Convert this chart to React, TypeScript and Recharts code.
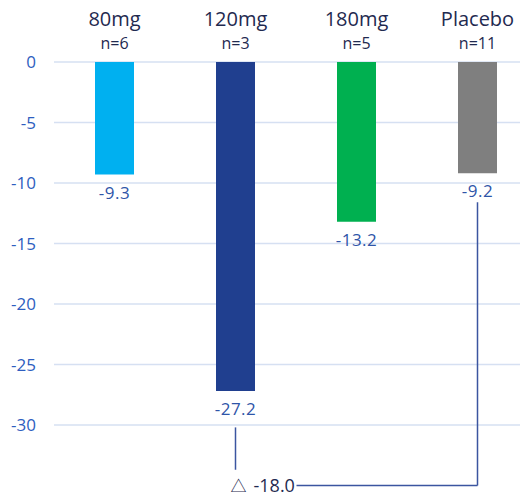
import { BarChart, Bar, XAxis, YAxis, CartesianGrid, Cell, LabelList, ReferenceLine } from "recharts"

const categories = ["80mg", "120mg", "180mg", "Placebo"]
const sampleSizes = ["n=6", "n=3", "n=5", "n=11"]
const changes = [-9.3, -27.2, -13.2, -9.2]
const yTicks = [0, -5, -10, -15, -20, -25, -30]
const deltaSymbol = "△"
const difference = "-18.0"

const barColors = ["#00B0F0", "#203F8F", "#00B050", "#7F7F7F"]
const navy = "#1F2A50"
const blue = "#2F55A8"
const tickBlue = "#2E5EC0"
const lineColor = "#3B55A0"
const font = "'Open Sans', sans-serif"

const data = categories.map((name, i) => ({ name, n: sampleSizes[i], value: changes[i] }))

function TopTick(props: any) {
  const { x, y, payload } = props
  const idx = categories.indexOf(payload.value)
  return (
    <g>
      <text x={x} y={y - 28} textAnchor="middle" fill={navy} fontSize={20} fontFamily={font}>
        {payload.value}
      </text>
      <text x={x} y={y - 5} textAnchor="middle" fill={navy} fontSize={16} fontFamily={font}>
        {sampleSizes[idx]}
      </text>
    </g>
  )
}

function ValueLabel(props: any) {
  const { x, y, width, height, value } = props
  const bottom = Math.max(y, y + height)
  return (
    <text x={x + width / 2} y={bottom + 24} textAnchor="middle" fill={blue} fontSize={17} fontFamily={font} letterSpacing={0.5}>
      {value.toFixed(1)}
    </text>
  )
}

function DeltaLabel(props: any) {
  const { viewBox } = props
  const { x, y } = viewBox
  return (
    <g>
      <rect x={x - 10} y={y - 12} width={71} height={24} fill="#fff" />
      <text x={x - 5} y={y + 7} textAnchor="start" fill={navy} fontSize={18} fontFamily={font}>
        <tspan fontFamily="'Noto Sans CJK SC', sans-serif" fontSize={16}>{deltaSymbol}</tspan>
        <tspan dx={7}>{difference}</tspan>
      </text>
    </g>
  )
}

export default function App() {
  return (
    <div style={{ margin: -8, width: 528, height: 500, overflow: "hidden", background: "#fff" }}>
      <BarChart width={540} height={500} data={data} margin={{ top: 2, right: 2, left: 0, bottom: 0 }}>
        <CartesianGrid vertical={false} stroke="#D6E0F2" strokeWidth={1.5} />
        <XAxis
          dataKey="name"
          orientation="top"
          height={60}
          axisLine={false}
          tickLine={false}
          tick={<TopTick />}
          interval={0}
        />
        <YAxis
          domain={[-36.2, 0]}
          ticks={yTicks}
          width={54}
          axisLine={false}
          tickLine={false}
          tickMargin={12}
          tick={{ fill: tickBlue, fontSize: 17, fontFamily: font }}
        />
        <Bar dataKey="value" barSize={39} isAnimationActive={false}>
          {data.map((d, i) => (
            <Cell key={d.name} fill={barColors[i]} />
          ))}
          <LabelList dataKey="value" content={<ValueLabel />} />
        </Bar>
        <ReferenceLine
          segment={[{ x: "120mg", y: -30.2 }, { x: "120mg", y: -33.7 }]}
          stroke={lineColor}
          strokeWidth={1.5}
          ifOverflow="visible"
        />
        <ReferenceLine
          segment={[{ x: "120mg", y: -35 }, { x: "Placebo", y: -35 }]}
          stroke={lineColor}
          strokeWidth={1.5}
          ifOverflow="visible"
          label={<DeltaLabel />}
        />
        <ReferenceLine
          segment={[{ x: "Placebo", y: -35 }, { x: "Placebo", y: -11.6 }]}
          stroke={lineColor}
          strokeWidth={1.5}
          ifOverflow="visible"
        />
      </BarChart>
    </div>
  )
}
